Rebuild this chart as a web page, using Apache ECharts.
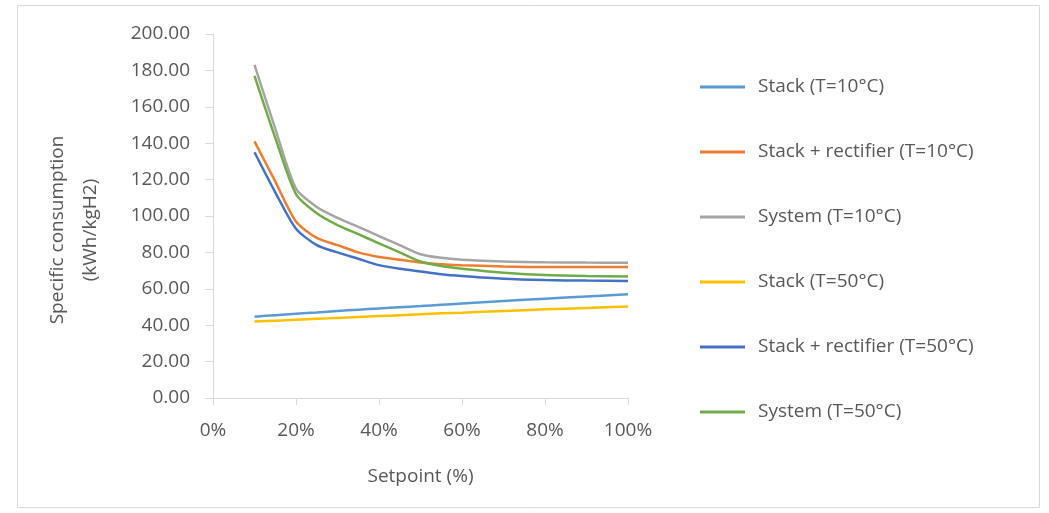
<!DOCTYPE html>
<html>
<head>
<meta charset="utf-8">
<script src="https://cdn.jsdelivr.net/npm/echarts@6/dist/echarts.min.js"></script>
<style>html,body{margin:0;padding:0;background:#fff;}#c{width:1049px;height:513px;}</style>
</head>
<body>
<div id="c"></div>
<script>
var setpoints = [10, 15, 20, 25, 30, 35, 40, 45, 50, 55, 60, 70, 80, 90, 100];
var stack10   = [44.7, 45.5, 46.3, 47.0, 47.8, 48.5, 49.2, 49.9, 50.5, 51.2, 51.9, 53.3, 54.6, 55.8, 57.0];
var stackRect10 = [141, 119, 97, 88, 84, 80, 77.5, 76, 74.5, 73.5, 73, 72.3, 72, 72, 72];
var system10  = [183, 148, 115, 105, 99, 94, 89, 84, 79, 77, 76, 75, 74.6, 74.4, 74.3];
var stack50   = [42.0, 42.5, 43.0, 43.5, 44.0, 44.5, 45.0, 45.5, 46.0, 46.5, 46.9, 47.8, 48.7, 49.5, 50.3];
var stackRect50 = [135, 113, 93, 84, 80, 76.5, 73, 71, 69.5, 68, 67, 65.5, 64.8, 64.5, 64.3];
var system50  = [177, 143, 112, 101.5, 95, 90, 85, 80, 75, 72.5, 71, 68.8, 67.6, 67, 66.7];
var seriesNames = ['Stack (T=10°C)', 'Stack + rectifier (T=10°C)', 'System (T=10°C)', 'Stack (T=50°C)', 'Stack + rectifier (T=50°C)', 'System (T=50°C)'];
var seriesValues = [stack10, stackRect10, system10, stack50, stackRect50, system50];
var colors = ['#5B9BD5', '#ED7D31', '#A5A5A5', '#FFC000', '#4472C4', '#70AD47'];
var xTicks = [0, 20, 40, 60, 80, 100];
var yTicks = [0, 20, 40, 60, 80, 100, 120, 140, 160, 180, 200];

var font = 'Open Sans';
var chart = echarts.init(document.getElementById('c'));
var series = seriesNames.map(function (n, i) {
  return {
    name: n,
    type: 'line',
    showSymbol: false,
    symbol: 'none',
    smooth: 0.25,
    lineStyle: { width: 2.5, color: colors[i] },
    itemStyle: { color: colors[i] },
    data: setpoints.map(function (x, j) { return [x, seriesValues[i][j]]; })
  };
});
chart.setOption({
  animation: false,
  backgroundColor: '#fff',
  textStyle: { fontFamily: font },
  graphic: [
    { type: 'rect', shape: { x: 17.5, y: 5.5, width: 1022, height: 502 }, style: { fill: 'none', stroke: '#D9D9D9', lineWidth: 1 }, z: -1 },
    { type: 'text', x: 74, y: 230, rotation: Math.PI / 2,
      style: { text: 'Specific consumption\n(kWh/kgH2)', fontFamily: font, fontSize: 19, lineHeight: 33, fill: '#595959', textAlign: 'center', textVerticalAlign: 'middle' } }
  ],
  legend: {
    orient: 'vertical',
    left: 695,
    top: 71,
    itemWidth: 45,
    itemHeight: 3,
    itemGap: 43,
    icon: 'rect',
    textStyle: { fontFamily: font, fontSize: 19, color: '#595959', lineHeight: 22, padding: [0, 0, 0, 8] },
    data: seriesNames
  },
  grid: { left: 213, right: 421, top: 34, bottom: 115, containLabel: false },
  xAxis: {
    type: 'value',
    min: xTicks[0],
    max: xTicks[xTicks.length - 1],
    interval: 20,
    name: 'Setpoint (%)',
    nameLocation: 'middle',
    nameGap: 69,
    nameTextStyle: { fontFamily: font, fontSize: 19, color: '#595959' },
    axisLine: { show: true, lineStyle: { color: '#D9D9D9', width: 1 } },
    axisTick: { show: true, inside: false, length: 7, lineStyle: { color: '#D9D9D9' } },
    axisLabel: { formatter: '{value}%', fontFamily: font, fontSize: 19, color: '#595959', margin: 23 },
    splitLine: { show: false }
  },
  yAxis: {
    type: 'value',
    min: yTicks[0],
    max: yTicks[yTicks.length - 1],
    interval: 20,
    axisLine: { show: true, lineStyle: { color: '#D9D9D9', width: 1 } },
    axisTick: { show: true, length: 8, lineStyle: { color: '#D9D9D9' } },
    axisLabel: { formatter: function (v) { return v.toFixed(2); }, fontFamily: font, fontSize: 19, color: '#595959', margin: 23 },
    splitLine: { show: false }
  },
  series: series
});
</script>
</body>
</html>
